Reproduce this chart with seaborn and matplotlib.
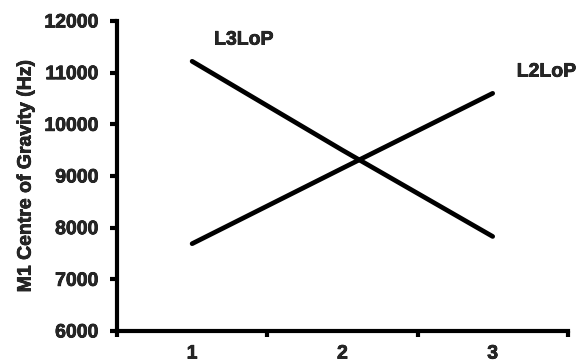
import pandas as pd
import seaborn as sns
import matplotlib.pyplot as plt
import matplotlib.patheffects as pe
from matplotlib.ticker import FixedLocator

# values
condition = [1, 2, 3]
l3lop = [11220, 9500, 7830]
l2lop = [7690, 9150, 10600]

df = pd.DataFrame({
    'condition': condition * 2,
    'cog': l3lop + l2lop,
    'series': ['L3LoP'] * 3 + ['L2LoP'] * 3,
})

sns.set_style("ticks")
plt.rcParams['font.family'] = ['Liberation Sans', 'DejaVu Sans']
plt.rcParams['font.weight'] = 'bold'

fig = plt.figure(figsize=(5.8, 3.62), dpi=100)
ax = fig.add_axes([0.2017, 0.0856, 0.7773, 0.8564])

sns.lineplot(data=df, x='condition', y='cog', hue='series',
             palette=['black', 'black'], linewidth=3.4, legend=False, ax=ax)

ax.set_xlim(0.5, 3.5)
ax.set_ylim(6000, 12000)
ax.set_yticks(range(6000, 12001, 1000))
ax.set_xticks(condition)
ax.set_xticklabels([str(c) for c in condition])
ax.xaxis.set_minor_locator(FixedLocator([0.5, 1.5, 2.5, 3.5]))
ax.tick_params(axis='x', which='major', length=0, pad=10.5)
ax.tick_params(axis='x', which='minor', length=4, width=3, color='black', direction='out')
ax.tick_params(axis='y', length=5, width=3, color='black', pad=8.5)

thick = [pe.withStroke(linewidth=0.5, foreground='black')]
for lab in ax.get_yticklabels() + ax.get_xticklabels():
    lab.set_fontweight('bold')
    lab.set_fontsize(14)
    lab.set_path_effects(thick)

ax.set_xlabel('')
ax.set_ylabel('M1 Centre of Gravity (Hz)', fontsize=14, fontweight='bold', labelpad=7,
              path_effects=thick)

sns.despine(ax=ax)
for side in ['left', 'bottom']:
    ax.spines[side].set_linewidth(3)
    ax.spines[side].set_color('black')

ax.text(1.146, 11630, 'L3LoP', fontsize=14, fontweight='bold', va='center', ha='left',
        path_effects=thick)
ax.text(3.16, 11010, 'L2LoP', fontsize=14, fontweight='bold', va='center', ha='left',
        clip_on=False, path_effects=thick)

fig.savefig('out.png', dpi=100)
